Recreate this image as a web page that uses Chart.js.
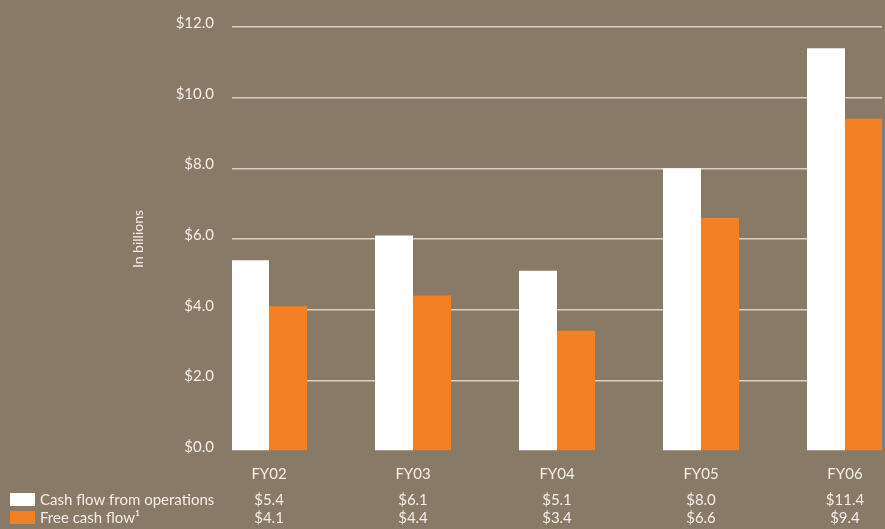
<!DOCTYPE html>
<html>
<head>
<meta charset="utf-8">
<script src="https://cdn.jsdelivr.net/npm/chart.js@4/dist/chart.umd.min.js"></script>
<style>
  html, body { margin: 0; padding: 0; background: #897967; }
  #wrap { width: 885px; height: 529px; position: relative; }
</style>
</head>
<body>
<div id="wrap"><canvas id="cashChart"></canvas></div>
<script>
const years = ['FY02', 'FY03', 'FY04', 'FY05', 'FY06'];
const operations = [5.4, 6.1, 5.1, 8.0, 11.4];
const freeCash = [4.1, 4.4, 3.4, 6.6, 9.4];
const seriesNames = ['Cash flow from operations', 'Free cash flow\u00B9'];

const palette = {
  bg: '#897967',
  white: '#ffffff',
  orange: '#f28024',
  text: '#f3eee8',
  grid: '#d9d1c7'
};
const fontFamily = 'Lato, "Open Sans", sans-serif';

// legend + value rows under the axis
const tablePlugin = {
  id: 'tableRows',
  afterDraw(chart) {
    const ctx = chart.ctx;
    const x = chart.scales.x;
    const rows = [operations, freeCash];
    const colors = [palette.white, palette.orange];
    const rowY = [500, 518];
    ctx.save();
    ctx.font = '15px ' + fontFamily;
    ctx.textBaseline = 'middle';
    rows.forEach((vals, r) => {
      ctx.fillStyle = colors[r];
      ctx.fillRect(10, rowY[r] - 7, 25, 13);
      ctx.fillStyle = palette.text;
      ctx.textAlign = 'left';
      ctx.fillText(seriesNames[r], 40, rowY[r]);
      ctx.textAlign = 'center';
      vals.forEach((v, i) => {
        ctx.fillText('$' + v.toFixed(1), x.getPixelForValue(i), rowY[r]);
      });
    });
    ctx.restore();
  }
};

const ctx = document.getElementById('cashChart').getContext('2d');
new Chart(ctx, {
  type: 'bar',
  data: {
    datasets: [
      {
        label: seriesNames[0],
        data: operations.map((v, i) => ({ x: i, y: v })),
        backgroundColor: palette.white,
        borderWidth: 0
      },
      {
        label: seriesNames[1],
        data: freeCash.map((v, i) => ({ x: i, y: v })),
        backgroundColor: palette.orange,
        borderWidth: 0
      }
    ]
  },
  options: {
    responsive: true,
    maintainAspectRatio: false,
    animation: false,
    layout: { padding: { top: 24, right: 3, left: 0, bottom: 0 } },
    datasets: { bar: { barPercentage: 1, categoryPercentage: 0.528 } },
    plugins: {
      legend: { display: false },
      tooltip: { enabled: false }
    },
    scales: {
      x: {
        type: 'linear',
        offset: false,
        min: -0.257,
        max: 4.257,
        grid: { display: false },
        border: { display: false },
        afterFit: s => { s.height = 78; },
        ticks: {
          stepSize: 1,
          includeBounds: false,
          autoSkip: false,
          maxRotation: 0,
          padding: 6,
          color: palette.text,
          font: { family: fontFamily, size: 15 },
          callback: v => years[v] || ''
        }
      },
      y: {
        min: 0,
        max: 12,
        afterFit: s => { s.width = 232; },
        border: { display: false },
        grid: {
          color: c => c.tick && c.tick.value === 0 ? 'rgba(0,0,0,0)' : palette.grid,
          lineWidth: 1.5,
          drawTicks: false
        },
        title: {
          display: true,
          text: 'In billions',
          color: palette.text,
          font: { family: fontFamily, size: 14 },
          padding: { top: 130, bottom: 0 }
        },
        ticks: {
          stepSize: 2,
          padding: 18,
          labelOffset: -4,
          color: palette.text,
          font: { family: fontFamily, size: 15 },
          callback: v => '$' + v.toFixed(1)
        }
      }
    }
  },
  plugins: [tablePlugin]
});
</script>
</body>
</html>
